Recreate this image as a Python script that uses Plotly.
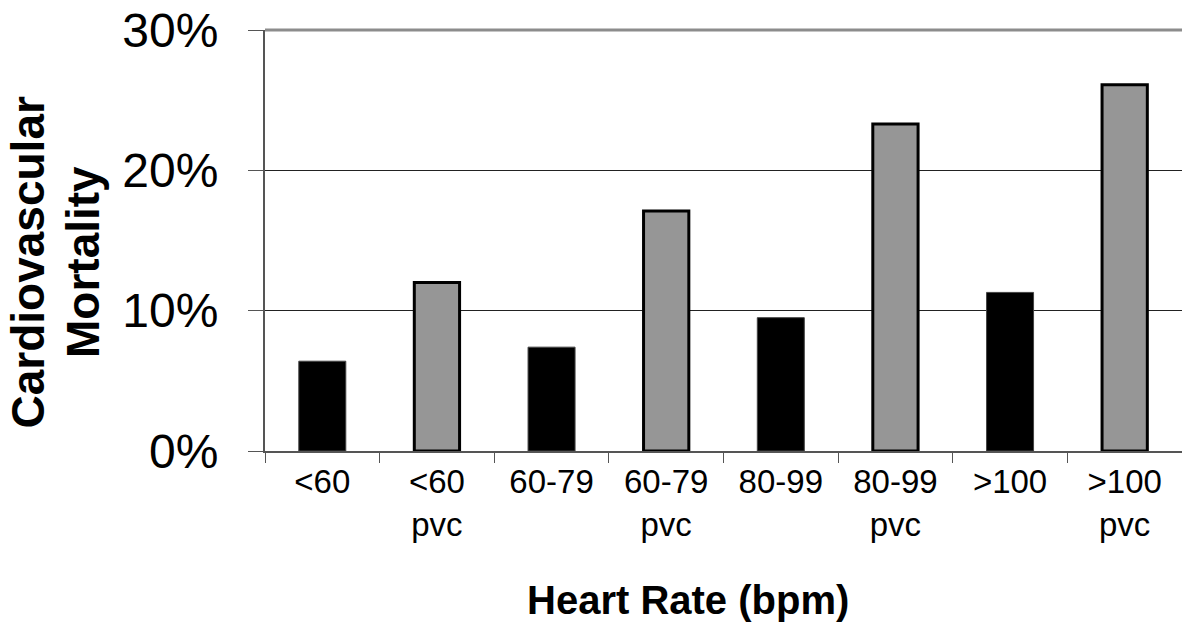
import plotly.graph_objects as go

categories = ["<60", "<60 pvc", "60-79", "60-79 pvc", "80-99", "80-99 pvc", ">100", ">100 pvc"]
tick_labels = ["&lt;60", "&lt;60<br>pvc", "60-79", "60-79<br>pvc", "80-99", "80-99<br>pvc", "&gt;100", "&gt;100<br>pvc"]

no_pvc_cats = ["<60", "60-79", "80-99", ">100"]
no_pvc_vals = [0.064, 0.074, 0.095, 0.113]

pvc_cats = ["<60 pvc", "60-79 pvc", "80-99 pvc", ">100 pvc"]
pvc_vals = [0.120, 0.171, 0.233, 0.261]

y_ticks = [0, 0.1, 0.2, 0.3]
y_tick_labels = ["0%", "10%", "20%", "30%"]

fig = go.Figure()
fig.add_trace(go.Bar(x=no_pvc_cats, y=no_pvc_vals, marker=dict(color="#000000", line=dict(color="#444444", width=1)),
                     width=0.41, showlegend=False))
fig.add_trace(go.Bar(x=pvc_cats, y=pvc_vals, marker=dict(color="#969696", line=dict(color="#000000", width=3)),
                     width=0.395, showlegend=False))

title_font = dict(size=46, family="Liberation Sans, Arial, sans-serif", color="black")

fig.update_layout(
    width=1182, height=631,
    margin=dict(l=265, r=0, t=30, b=180, autoexpand=False),
    paper_bgcolor="white", plot_bgcolor="white",
    barmode="overlay",
    font=dict(family="Liberation Sans, Arial, sans-serif", color="black"),
    xaxis=dict(
        type="category", categoryorder="array", categoryarray=categories,
        tickmode="array", tickvals=categories, ticktext=tick_labels,
        tickson="boundaries", ticks="outside", ticklen=10, tickcolor="#555555", tickwidth=1,
        showline=True, linecolor="#555555", linewidth=2, automargin=False,
        tickfont=dict(size=33), showgrid=False,
    ),
    yaxis=dict(
        range=[0, 0.3], tickmode="array", tickvals=y_ticks, ticktext=y_tick_labels,
        ticks="outside", ticklen=15, tickcolor="#555555", tickwidth=1,
        showline=True, linecolor="#555555", linewidth=2, automargin=False,
        showgrid=True, gridcolor="#222222", gridwidth=1,
        tickfont=dict(size=48), ticklabelstandoff=20, zeroline=False,
    ),
    shapes=[dict(type="line", xref="paper", yref="paper", x0=0, x1=1, y0=1, y1=1,
                 line=dict(color="#8c8c8c", width=3))],
    annotations=[
        dict(text="<b>Cardiovascular</b>", textangle=-90, xref="paper", yref="paper",
             x=(27.5 - 265) / 917, y=(451 - 263) / 421, xanchor="center", yanchor="middle",
             showarrow=False, font=title_font),
        dict(text="<b>Mortality</b>", textangle=-90, xref="paper", yref="paper",
             x=(83 - 265) / 917, y=(451 - 262) / 421, xanchor="center", yanchor="middle",
             showarrow=False, font=title_font),
        dict(text="<b>Heart Rate (bpm)</b>", xref="paper", yref="paper",
             x=0.4613, y=-0.354, xanchor="center", yanchor="middle", showarrow=False,
             font=dict(size=40, family="Liberation Sans, Arial, sans-serif")),
    ],
)

fig.write_html("out.html", config={"displayModeBar": False},
               post_script="document.body.style.margin='0';")
